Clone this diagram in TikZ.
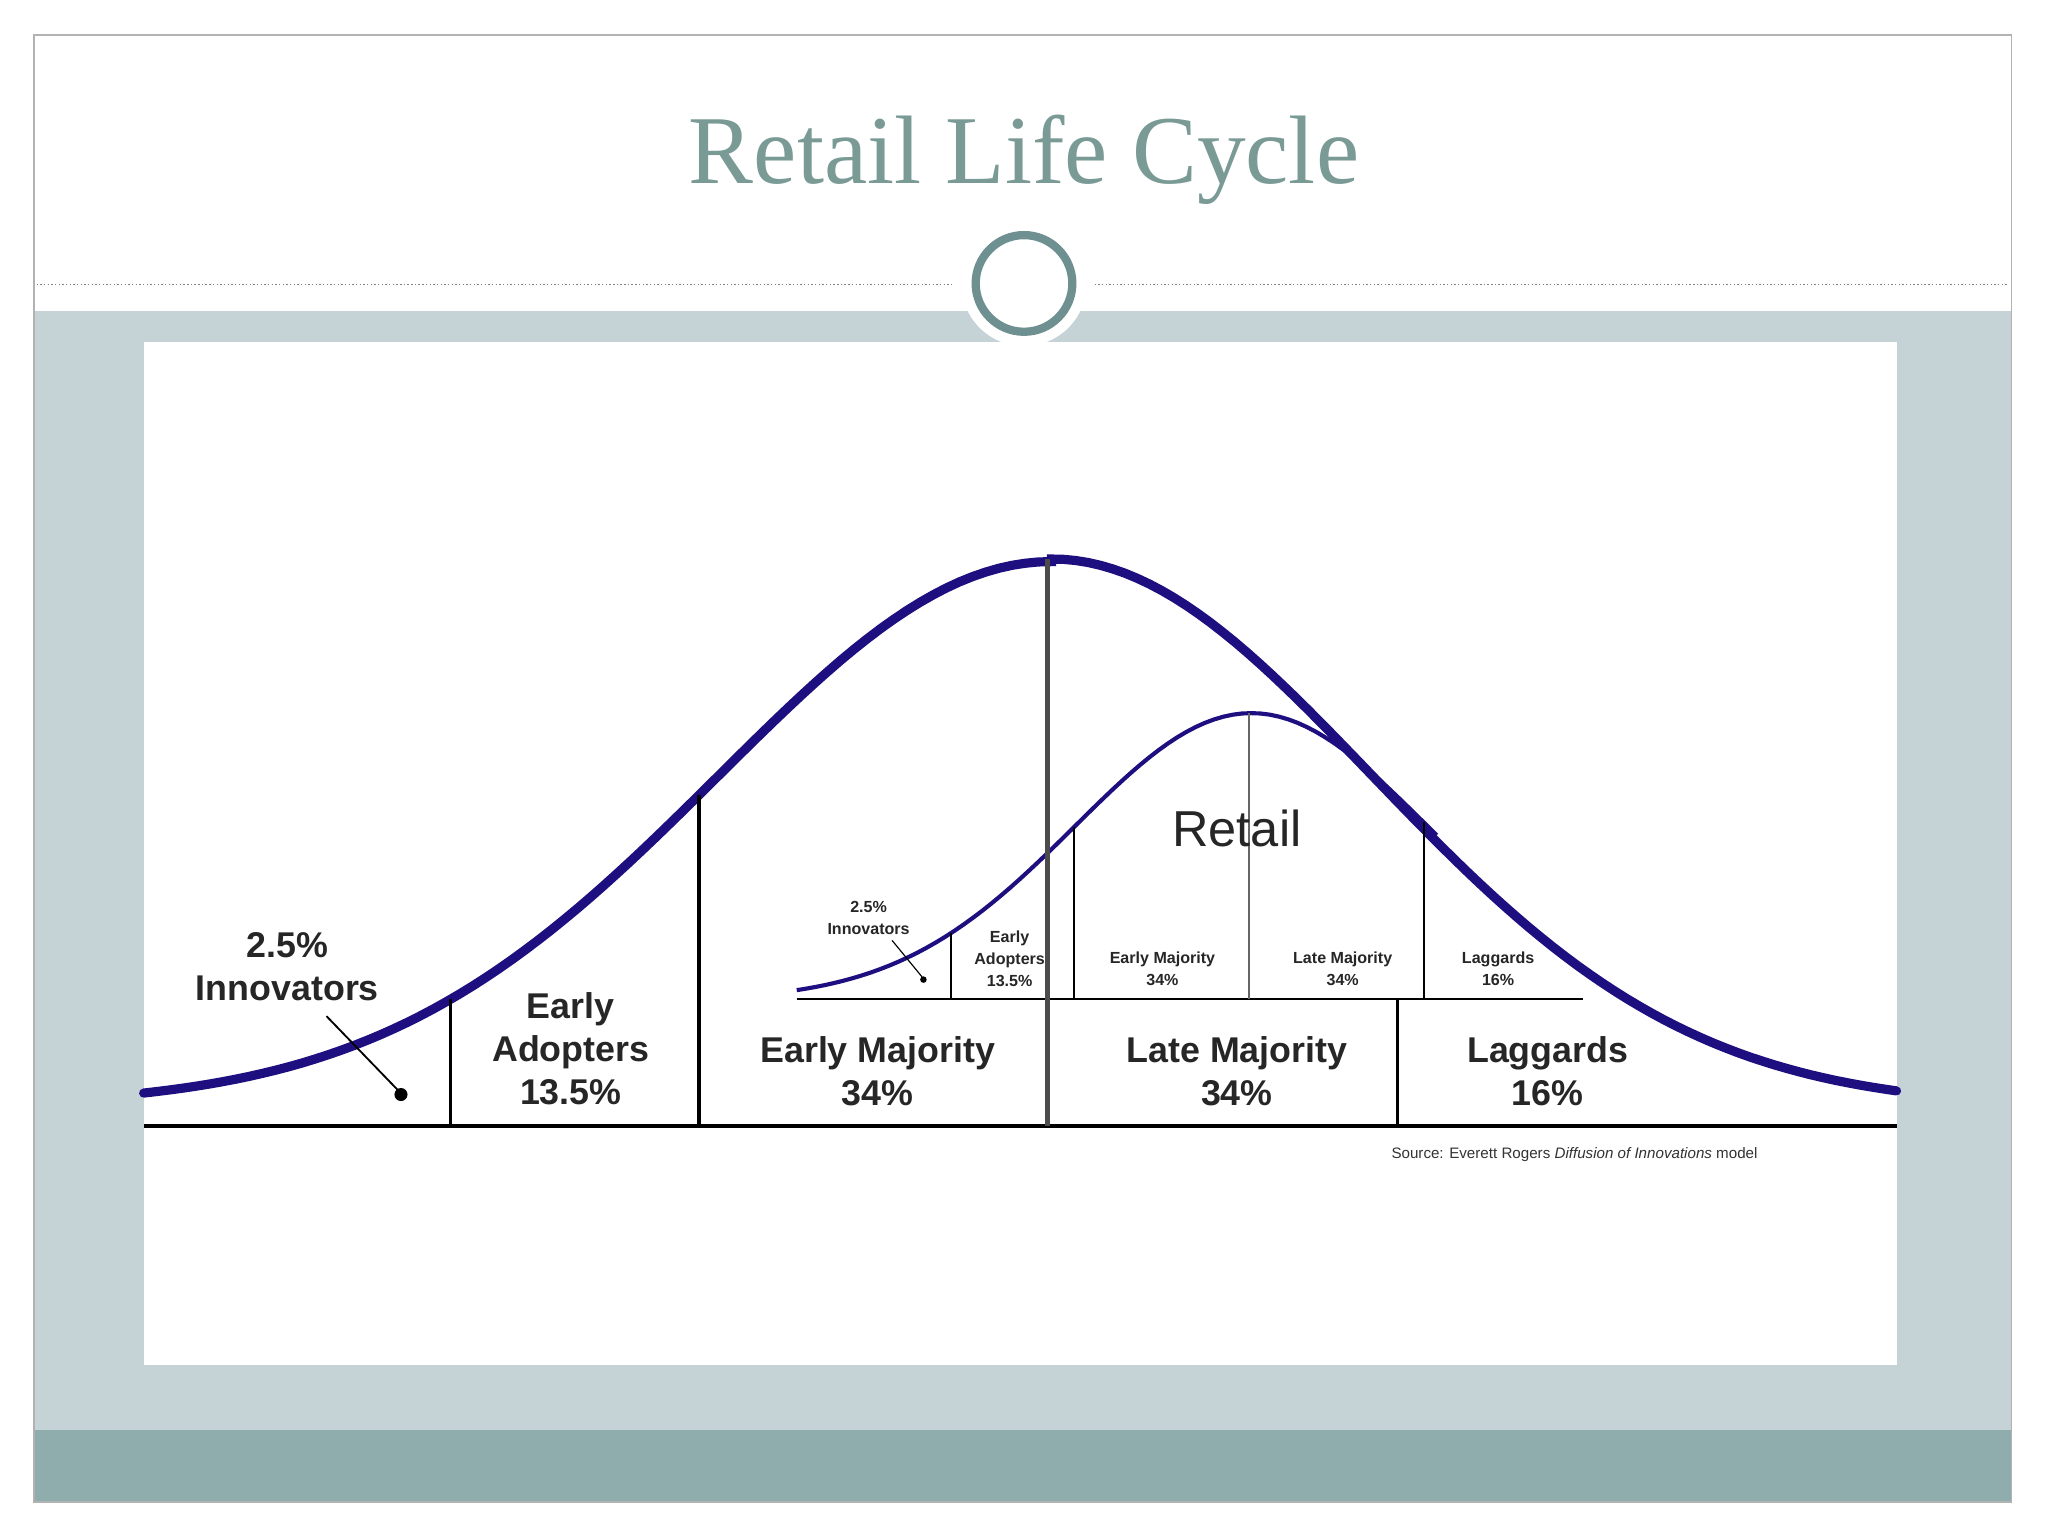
\documentclass[tikz,border=0pt]{standalone}
\usepackage{fontspec}
\setmainfont{Liberation Sans}
\newfontfamily\titlefont{Liberation Serif}
\begin{document}
\begin{tikzpicture}[x=0.1mm,y=-0.1mm,
  curve/.style={draw={rgb,255:red,30;green,15;blue,128},line width=2pt,line cap=round},
  scurve/.style={draw={rgb,255:red,30;green,15;blue,128},line width=0.9pt},
  div/.style={draw=black,line width=0.8pt},
  sdiv/.style={draw=black,line width=0.4pt},
  big/.style={font=\fontsize{7.8}{9.4}\selectfont\bfseries,align=center,text=black!85},
  small/.style={font=\fontsize{3.5}{4.8}\selectfont\bfseries,align=center,text=black!85}]
\definecolor{panelbg}{RGB}{197,211,214}
\definecolor{bandbg}{RGB}{143,173,173}
\definecolor{ttl}{RGB}{122,154,150}
\definecolor{ring}{RGB}{110,144,144}
\useasboundingbox (0,0) rectangle (1568,1176);
\fill[white] (0,0) rectangle (1568,1176);
\fill[panelbg] (26,238) rectangle (1540,1095);
\fill[bandbg] (26,1095) rectangle (1540,1150);
\draw[gray!60,line width=0.4pt] (26,27) rectangle (1540,1150);
\draw[gray,dash pattern=on 0.3pt off 0.5pt,line width=0.3pt] (28,218) -- (730,218);
\draw[gray,dash pattern=on 0.3pt off 0.5pt,line width=0.3pt] (838,218) -- (1538,218);
\fill[white] (784,217) circle (48);
\draw[ring,line width=1.8pt] (784,217) circle (37);
\node[font=\titlefont\fontsize{21.2}{24}\selectfont,text=ttl] (title) at (784,122) {Retail Life Cycle};
\fill[white] (110,262) rectangle (1452,1045);
% big curve
\draw[curve] plot[domain=110:805,samples=70] (\x,{847-417*exp(-((\x-805)/255)^2/2)})
  -- plot[domain=805:1452,samples=70] (\x,{848-420*exp(-((\x-805)/245)^2/2)});
% retail curve
\draw[scurve] plot[domain=610:1100,samples=70] (\x,{766-220*exp(-((\x-958)/135)^2/2)});
% baseline
\draw[black,line width=1pt] (110,862) -- (1452,862);
\draw[sdiv] (610,765) -- (1212,765);
% big dividers
\draw[div] (345,{847-417*exp(-((345-805)/255)^2/2)}) -- (345,862);
\draw[div] (535,{847-417*exp(-((535-805)/255)^2/2)}) -- (535,862);
\draw[black!70,line width=1pt] (802,428) -- (802,862);
\draw[div] (1070,765) -- (1070,862);
% small dividers
\draw[sdiv] (728,{766-220*exp(-((728-958)/135)^2/2)}) -- (728,765);
\draw[sdiv] (822,{766-220*exp(-((822-958)/135)^2/2)}) -- (822,765);
\draw[black!60,line width=0.5pt] (956,546) -- (956,765);
\draw[sdiv] (1090,{766-220*exp(-((1090-958)/135)^2/2)}) -- (1090,765);
% labels
\node[big] (inn) at (220,740) {2.5\%\\Innovators};
\draw[black,line width=0.4pt] (250,778) -- (305,835);
\fill[black] (307,838) circle (5);
\node[big] (ea) at (437,803) {Early\\Adopters\\13.5\%};
\node[big] (em) at (672,820) {Early Majority\\34\%};
\node[big] (lm) at (947,820) {Late Majority\\34\%};
\node[big] (lg) at (1185,820) {Laggards\\16\%};
\node[font=\fontsize{11}{13}\selectfont,text=black!85] (ret) at (947,634) {Retail};
\node[small] (sinn) at (665,703) {2.5\%\\Innovators};
\draw[black,line width=0.25pt] (683,720) -- (706,748);
\fill[black] (707,750) circle (2.5);
\node[small] (sea) at (773,734) {Early\\Adopters\\13.5\%};
\node[small] (sem) at (890,742) {Early Majority\\34\%};
\node[small] (slm) at (1028,742) {Late Majority\\34\%};
\node[small] (slg) at (1147,742) {Laggards\\16\%};
\node[font=\fontsize{3.3}{4}\selectfont,anchor=east,text=black!80] (src) at (1358,884) {Source: Everett Rogers \textit{Diffusion of Innovations} model};
\end{tikzpicture}
\end{document}
